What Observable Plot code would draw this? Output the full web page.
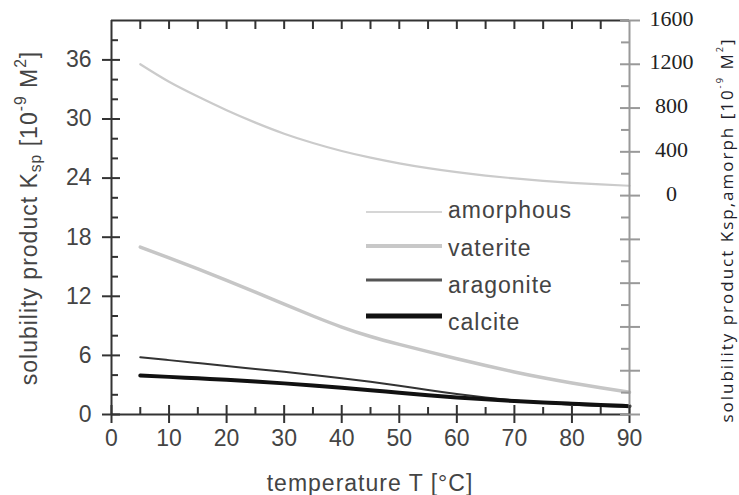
<!DOCTYPE html>
<html><head><meta charset="utf-8">
<script src="https://cdn.jsdelivr.net/npm/d3@7"></script>
<script src="https://cdn.jsdelivr.net/npm/@observablehq/plot@0.6"></script>
<style>
html,body{margin:0;padding:0;background:#fff;}
#chart svg{display:block;}
</style></head>
<body><div id="chart"></div>
<script>
// ---------- data ----------
const temperature = [5,10,15,20,25,30,35,40,45,50,55,60,65,70,75,80,85,90];
// amorphous read on the right axis (10^-9 M^2)
const amorphous = [1200,1040,905,780,667,566,481,408,347,295,251,214,183,157,135,117,102,90];
// the others read on the left axis (10^-9 M^2)
const vaterite  = [17.0,15.9,14.78,13.62,12.42,11.2,10.0,8.88,7.92,7.12,6.38,5.66,4.97,4.32,3.73,3.2,2.72,2.27];
const aragonite = [5.82,5.52,5.22,4.92,4.63,4.33,4.01,3.68,3.32,2.92,2.48,2.07,1.72,1.43,1.19,1.0,0.86,0.75];
const calcite   = [3.96,3.82,3.67,3.52,3.35,3.16,2.95,2.72,2.47,2.2,1.95,1.73,1.54,1.37,1.22,1.09,0.96,0.85];
const seriesNames = ["amorphous","vaterite","aragonite","calcite"];

const xDomain = [0,90];
const leftDomain = [0,40];
const rightDomain = [-2000,1600];
const xTickLabels = [0,10,20,30,40,50,60,70,80,90];
const xMinorTicks = [5,15,25,35,45,55,65,75,85];
const xTopTicks = [5,10,15,20,25,30,35,40,45,50,55,60,65,70,75,80,85];
const yTickLabels = [0,6,12,18,24,30,36];
const yMinorTicks = [2,4,8,10,14,16,20,22,26,28,32,34,38];
const rightMajorTicks = [-2000,-1600,-1200,-800,-400,0,400,800,1200,1600];
const rightMinorTicks = [-1800,-1400,-1000,-600,-200,200,600,1000,1400];
const rightTickLabels = [0,400,800,1200,1600];

// ---------- layout ----------
const W = 739, H = 495, mL = 111, mR = 110, mT = 20, mB = 81;
const frameW = W - mL - mR, frameH = H - mT - mB;
const toLeft = v => (v - rightDomain[0]) / (rightDomain[1] - rightDomain[0]) * (leftDomain[1] - leftDomain[0]) + leftDomain[0];

const styles = {
  amorphous: {stroke: "#cbcbcb", width: 2.2, legendWidth: 1.3, legendStroke: "#c8c8c8"},
  vaterite:  {stroke: "#c6c6c6", width: 3.5, legendWidth: 4,   legendStroke: "#c8c8c8"},
  aragonite: {stroke: "#333333", width: 2,   legendWidth: 3,   legendStroke: "#555555"},
  calcite:   {stroke: "#111111", width: 4,   legendWidth: 5,   legendStroke: "#111111"}
};

const rows = temperature.map((t, i) => ({
  T: t,
  amorphous: toLeft(amorphous[i]),
  vaterite: vaterite[i],
  aragonite: aragonite[i],
  calcite: calcite[i]
}));

const dark = "#333", grey = "#999";

const chart = Plot.plot({
  width: W, height: H,
  marginLeft: mL, marginRight: mR, marginTop: mT, marginBottom: mB,
  style: {fontFamily: "'Liberation Sans', Arial, sans-serif", fontSize: "23px", background: "#fff", color: "#444"},
  x: {domain: xDomain, axis: null},
  y: {domain: leftDomain, axis: null},
  marks: [
    ...seriesNames.map(name => Plot.line(rows, {x: "T", y: name, stroke: styles[name].stroke, strokeWidth: styles[name].width, curve: "natural"})),
    Plot.ruleX([xDomain[1]], {stroke: grey, strokeWidth: 2}),
    Plot.ruleY([leftDomain[1]], {stroke: dark, strokeWidth: 2}),
    Plot.ruleX([xDomain[0]], {stroke: dark, strokeWidth: 2}),
    Plot.ruleY([leftDomain[0]], {stroke: dark, strokeWidth: 2}),
    Plot.tickX(xTickLabels, {x: d => d, insetTop: frameH - 9, insetBottom: -9, stroke: dark, strokeWidth: 2}),
    Plot.tickX(xMinorTicks, {x: d => d, insetTop: frameH - 7, insetBottom: 0, stroke: dark, strokeWidth: 2}),
    Plot.tickX(xTopTicks, {x: d => d, insetTop: 0, insetBottom: frameH - 9, stroke: dark, strokeWidth: 2}),
    Plot.tickY(yTickLabels, {y: d => d, insetLeft: -9, insetRight: frameW - 9, stroke: dark, strokeWidth: 2}),
    Plot.tickY(yMinorTicks, {y: d => d, insetLeft: 0, insetRight: frameW - 7, stroke: dark, strokeWidth: 2}),
    Plot.tickY(rightMajorTicks, {y: d => toLeft(d), insetLeft: frameW - 9, insetRight: -11, stroke: grey, strokeWidth: 2}),
    Plot.tickY(rightMinorTicks, {y: d => toLeft(d), insetLeft: frameW - 8, insetRight: 0, stroke: grey, strokeWidth: 2}),
    Plot.text(yTickLabels, {y: d => d, frameAnchor: "left", dx: -20, textAnchor: "end", text: d => String(d), fill: "#444", fontSize: 23}),
    Plot.text(xTickLabels, {x: d => d, frameAnchor: "bottom", dy: 31, text: d => String(d), fill: "#444", fontSize: 23}),
    Plot.text(rightTickLabels, {y: d => toLeft(d), frameAnchor: "right", dx: 42, dy: -2, textAnchor: "middle", text: d => String(d), fill: "#222", fontSize: 22, fontFamily: "'Liberation Serif', 'Times New Roman', serif"})
  ]
});

document.getElementById("chart").appendChild(chart);

// ---------- titles & legend ----------
const svg = d3.select(chart);

svg.append("text")
  .attr("x", (mL + W - mR) / 2).attr("y", 483)
  .attr("text-anchor", "middle").attr("dominant-baseline", "central")
  .attr("fill", "#444").attr("font-size", 23).attr("letter-spacing", 1)
  .text("temperature T [°C]");

{
  const size = 23;
  const t = svg.append("text")
    .attr("transform", `translate(29,218) rotate(-90)`)
    .attr("text-anchor", "middle").attr("dominant-baseline", "central")
    .attr("fill", "#444").attr("font-size", size).attr("letter-spacing", 1);
  t.append("tspan").text("solubility product K");
  t.append("tspan").text("sp").attr("font-size", size * 0.68).attr("dy", size * 0.25);
  t.append("tspan").text(" [10").attr("dy", -size * 0.25);
  t.append("tspan").text("-9").attr("font-size", size * 0.68).attr("dy", -size * 0.38);
  t.append("tspan").text(" M").attr("dy", size * 0.38);
  t.append("tspan").text("2").attr("font-size", size * 0.68).attr("dy", -size * 0.38);
  t.append("tspan").text("]").attr("dy", size * 0.38);
}

{
  const size = 17;
  const t = svg.append("text")
    .attr("transform", `translate(726,230) rotate(-90)`)
    .attr("text-anchor", "middle").attr("dominant-baseline", "central")
    .attr("fill", "#1e1e2a").attr("font-size", size).attr("letter-spacing", 2)
    .attr("font-family", "'Open Sans', 'Noto Sans', sans-serif");
  t.append("tspan").text("solubility product Ksp,amorph [10");
  t.append("tspan").text("-9").attr("font-size", size * 0.55).attr("dy", -size * 0.4);
  t.append("tspan").text(" M").attr("dy", size * 0.4);
  t.append("tspan").text("2").attr("font-size", size * 0.55).attr("dy", -size * 0.4);
  t.append("tspan").text("]").attr("dy", size * 0.4);
}

const legendLineY = [212, 246, 280, 316];
const legendTextY = [210, 248, 285, 322];
const lg = svg.append("g");
seriesNames.forEach((name, i) => {
  lg.append("line")
    .attr("x1", 366).attr("x2", 442)
    .attr("y1", legendLineY[i]).attr("y2", legendLineY[i])
    .attr("stroke", styles[name].legendStroke).attr("stroke-width", styles[name].legendWidth);
  lg.append("text")
    .attr("x", 448).attr("y", legendTextY[i])
    .attr("text-anchor", "start").attr("dominant-baseline", "central")
    .attr("fill", "#444").attr("font-size", 23).attr("letter-spacing", 1)
    .text(name);
});
</script>
</body></html>
